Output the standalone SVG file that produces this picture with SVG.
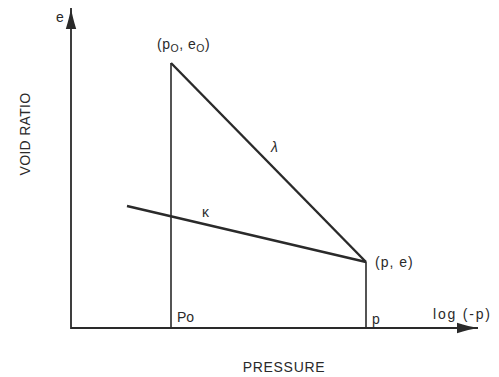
<svg xmlns="http://www.w3.org/2000/svg" width="499" height="377" viewBox="0 0 499 377">
<style>
.ln{stroke:#2a2a2a;fill:none}
.t{font-family:"Liberation Sans",Arial,sans-serif;font-size:14px;fill:#2a2a2a}
</style>
<defs>
<marker id="ah" markerWidth="24" markerHeight="12" refX="22" refY="6" orient="auto" markerUnits="userSpaceOnUse">
<path d="M22,6 Q13,4.5 1,0.8 L1,11.2 Q13,7.5 22,6 Z" fill="#2a2a2a"/>
</marker>
</defs>
<rect width="499" height="377" fill="#fff"/>
<g id="connectors">
<line class="ln" x1="71" y1="329" x2="71" y2="8" stroke-width="1.8" marker-end="url(#ah)"/>
<line class="ln" x1="71" y1="328" x2="478" y2="328" stroke-width="1.8" marker-end="url(#ah)"/>
<line class="ln" x1="171" y1="63" x2="171" y2="328" stroke-width="1.6"/>
<line class="ln" x1="171" y1="63" x2="366" y2="262" stroke-width="2.4"/>
<line class="ln" x1="366" y1="262" x2="366" y2="328" stroke-width="1.6"/>
<line class="ln" x1="127" y1="206" x2="366" y2="262" stroke-width="2.4"/>
</g>
<g id="labels">
<text class="t" x="56" y="22">e</text>
<text class="t" x="157" y="49" letter-spacing="0.5">(p<tspan font-size="10.5" dy="3">O</tspan><tspan dy="-3">, e</tspan><tspan font-size="10.5" dy="3">O</tspan><tspan dy="-3">)</tspan></text>
<text class="t" x="271" y="152" font-style="italic" font-family="'DejaVu Serif',serif" font-size="13">λ</text>
<text class="t" x="202" y="217" font-size="12">κ</text>
<text class="t" x="375" y="267" letter-spacing="1">(p, e)</text>
<text class="t" x="177" y="322">Po</text>
<text class="t" x="372" y="324">p</text>
<text class="t" x="433" y="319" letter-spacing="1.8">log (-p)</text>
<text class="t" x="284" y="372" text-anchor="middle" letter-spacing="0.7">PRESSURE</text>
<text class="t" font-size="12.5" transform="translate(30,134) rotate(-90)" text-anchor="middle" letter-spacing="0.3">VOID RATIO</text>
</g>
</svg>
